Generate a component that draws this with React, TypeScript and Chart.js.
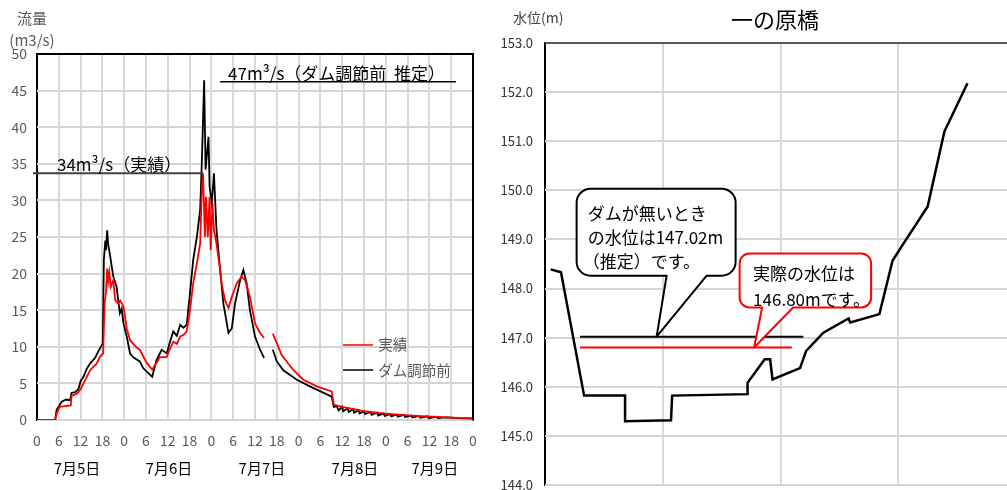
import React, { useEffect, useRef } from "react";
import { Chart, registerables } from "chart.js";

Chart.register(...registerables);

const FONT = '"Noto Sans CJK JP", "Noto Sans", sans-serif';

// ---------- Left chart: discharge ----------
const actualHours = [0, 5, 5.5, 6.2, 9.3, 9.5, 11, 12, 13.7, 14.6, 16.4, 17.3, 18.2, 18.6, 19.0, 19.3, 19.6, 19.9, 20.3, 21, 21.5, 22.3, 22.9, 23.8, 24.7, 25.6, 27.4, 28.3, 30.2, 31.7, 32.9, 33.8, 35.7, 36.5, 37.5, 38.5, 39.4, 40.3, 41.2, 42.1, 43, 44, 44.9, 45.3, 45.7, 46.2, 46.5, 47, 47.5, 47.8, 48.3, 48.7, 49.4, 50.4, 50.8, 51.7, 52.7, 53.6, 55, 56.3, 57.3, 58.6, 60, 61.4, 62.5, 63.5, 64.9, 66, 67.3, 68.7, 70.6, 73.3, 77, 81.1, 81.7, 84, 86.2, 90, 95.3, 100, 104.5, 111.8, 116, 120];
const actualFlow = [0, 0, 1.0, 1.8, 2.0, 3.3, 3.6, 4.2, 5.9, 6.8, 7.7, 8.6, 9.1, 15.9, 17.5, 20.7, 19.0, 20.2, 18.2, 19.1, 16.4, 15.9, 16.3, 15.5, 12.5, 10.9, 9.9, 9.6, 7.8, 6.9, 7.8, 8.6, 8.6, 9.6, 10.7, 10.4, 11.4, 11.6, 12.1, 15, 18.7, 21.4, 24.1, 30.5, 33.7, 25, 30.5, 25, 30.5, 23.2, 29.6, 26, 24.1, 20.5, 18.7, 16.4, 15.3, 16.8, 18.7, 19.6, 19.1, 16.8, 13.2, 11.9, 11.2, null, 11.8, 10.5, 8.9, 8.0, 6.8, 5.5, 4.6, 3.9, 2.1, 1.8, 1.6, 1.2, 0.9, 0.7, 0.55, 0.4, 0.3, 0.25];

const beforeHours = [0, 5, 5.4, 6.8, 8, 9.1, 9.5, 10.5, 11.4, 12, 12.8, 13.7, 14.6, 16, 16.8, 17.8, 18.1, 18.4, 18.8, 19.0, 19.3, 19.6, 20.1, 21, 21.9, 22.8, 23.3, 23.8, 24.7, 25.6, 26.4, 28.3, 29.2, 31.7, 32.9, 34.3, 35.7, 36.5, 37.5, 38.5, 39.4, 40.3, 41.2, 42.1, 43, 44, 44.9, 45.3, 45.7, 46.0, 46.4, 47.2, 47.5, 48.1, 48.7, 49.4, 50.4, 51.3, 52.7, 53.6, 54.5, 55.9, 56.8, 57.7, 58.6, 60, 61.4, 62.5, 63.5, 64.9, 66, 67.8, 71.5, 75.1, 81.1, 81.7, 82.5, 83, 84, 84.3, 85.5, 85.8, 87, 87.3, 88.5, 88.8, 90, 90.3, 91.8, 92.1, 93.6, 93.9, 95.4, 95.7, 97.2, 97.5, 99, 99.3, 101, 101.3, 103, 103.3, 105.2, 105.5, 107.5, 107.8, 110, 110.3, 112.5, 116, 120];
const beforeFlow = [0, 0, 1.4, 2.5, 2.8, 2.7, 3.7, 3.8, 4.2, 5.3, 5.9, 7.0, 7.7, 8.5, 9.3, 10.2, 10.5, 21.9, 24.5, 23.2, 25.9, 24.0, 22.5, 19.6, 18.2, 14.6, 15.2, 13.2, 11.4, 9.1, 8.6, 8.0, 7.1, 5.9, 8.2, 9.6, 9.1, 10.5, 12.1, 11.5, 13, 12.6, 13, 17.3, 21.9, 25, 28.7, 34.2, 41, 46.4, 34.2, 38.7, 31.9, 29.6, 33.7, 26, 20.5, 15.9, 11.9, 12.5, 15.9, 19.1, 20.5, 18.7, 15, 11.4, 9.6, 8.5, null, 9.6, 8.0, 6.8, 5.5, 4.6, 3.2, 1.8, 1.9, 1.3, 1.8, 1.2, 1.6, 1.1, 1.5, 1.0, 1.35, 0.9, 1.2, 0.8, 1.1, 0.7, 1.0, 0.6, 0.9, 0.55, 0.8, 0.5, 0.75, 0.45, 0.7, 0.4, 0.6, 0.35, 0.55, 0.3, 0.5, 0.25, 0.45, 0.25, 0.35, 0.25, 0.2];

const dateLabels = ["7月5日", "7月6日", "7月7日", "7月8日", "7月9日"];
const dateLabelHours = [11, 36.3, 61.9, 87.5, 109.5];

const actualPeak = 33.7; // 34m3/s line
const actualPeakSpan = [-1.1, 45.7];
const beforePeak = 46.2; // 47m3/s line
const beforePeakSpan = [50.4, 115.3];

// ---------- Right chart: cross section ----------
const bedDist = [0.24, 0.68, 1.66, 3.40, 3.40, 5.35, 5.40, 8.60, 8.60, 9.33, 9.56, 9.66, 10.83, 11.09, 11.82, 12.89, 12.96, 14.20, 14.76, 15.20, 16.25, 16.96, 17.94];
const bedElev = [148.39, 148.33, 145.82, 145.82, 145.30, 145.32, 145.82, 145.85, 146.08, 146.56, 146.56, 146.15, 146.38, 146.73, 147.10, 147.39, 147.31, 147.48, 148.57, 148.90, 149.67, 151.20, 152.18];

const noDamLevel = 147.02;
const noDamSpan = [1.49, 10.97];
const noDamTip = 4.74;
const actualLevel = 146.80;
const actualSpan = [1.49, 10.48];
const actualTip = 8.88;

const GRID = "#d9d9d9";

function calloutPath(ctx: CanvasRenderingContext2D, l: number, t: number, r: number, b: number, rad: number, b1: number, b2: number, tx: number, ty: number) {
  ctx.beginPath();
  ctx.moveTo(l + rad, t);
  ctx.lineTo(r - rad, t);
  ctx.arcTo(r, t, r, t + rad, rad);
  ctx.lineTo(r, b - rad);
  ctx.arcTo(r, b, r - rad, b, rad);
  ctx.lineTo(b2, b);
  ctx.lineTo(tx, ty);
  ctx.lineTo(b1, b);
  ctx.lineTo(l + rad, b);
  ctx.arcTo(l, b, l, b - rad, rad);
  ctx.lineTo(l, t + rad);
  ctx.arcTo(l, t, l + rad, t, rad);
  ctx.closePath();
}

// horizontal grid lines from the y scale's own ticks
const hGridPlugin = {
  id: "hGrid",
  beforeDatasetsDraw(chart: any) {
    const { ctx, chartArea: a, scales } = chart;
    const y = scales.y;
    ctx.save();
    ctx.fillStyle = "#d4d4d4";
    const n = Math.round((y.max - y.min) / Number(y.options.ticks.stepSize));
    for (let i = 0; i <= n; i++) {
      const v = y.min + i * Number(y.options.ticks.stepSize);
      const py = Math.round(y.getPixelForValue(v));
      ctx.fillRect(a.left, py - 1, a.right - a.left, 2);
    }
    ctx.restore();
  },
};

export default function App() {
  const leftRef = useRef<HTMLCanvasElement | null>(null);
  const rightRef = useRef<HTMLCanvasElement | null>(null);

  useEffect(() => {
    const leftPlugin = {
      id: "leftDecor",
      afterDatasetsDraw(chart: any) {
        const { ctx, chartArea: a, scales } = chart;
        const x = scales.x, y = scales.y;
        ctx.save();
        ctx.strokeStyle = "#000";
        ctx.lineWidth = 2;
        ctx.beginPath();
        ctx.moveTo(a.left, a.top);
        ctx.lineTo(a.right, a.top);
        ctx.lineTo(a.right, a.bottom);
        ctx.stroke();
        ctx.strokeStyle = "#404040";
        ctx.lineWidth = 2;
        ctx.beginPath();
        ctx.moveTo(x.getPixelForValue(actualPeakSpan[0]), y.getPixelForValue(actualPeak));
        ctx.lineTo(x.getPixelForValue(actualPeakSpan[1]), y.getPixelForValue(actualPeak));
        ctx.stroke();
        ctx.strokeStyle = "#000";
        ctx.lineWidth = 1.5;
        ctx.beginPath();
        ctx.moveTo(x.getPixelForValue(beforePeakSpan[0]), y.getPixelForValue(beforePeak));
        ctx.lineTo(x.getPixelForValue(beforePeakSpan[1]), y.getPixelForValue(beforePeak));
        ctx.stroke();
        ctx.fillStyle = "#000";
        ctx.font = `17px ${FONT}`;
        ctx.textBaseline = "middle";
        ctx.textAlign = "left";
        ctx.fillText("34m³/s（実績）", x.getPixelForValue(5.5), y.getPixelForValue(actualPeak) - 9);
        ctx.fillText("47m³/s（ダム調節前  推定）", x.getPixelForValue(52.6), y.getPixelForValue(beforePeak) - 8);
        const legend = [
          { label: "実績", color: "#ff0000", v: 10.25 },
          { label: "ダム調節前", color: "#000", v: 6.83 },
        ];
        ctx.font = `14.5px ${FONT}`;
        legend.forEach((it) => {
          const py = y.getPixelForValue(it.v);
          ctx.strokeStyle = it.color;
          ctx.lineWidth = 1.5;
          ctx.beginPath();
          ctx.moveTo(x.getPixelForValue(84.2), py);
          ctx.lineTo(x.getPixelForValue(92.5), py);
          ctx.stroke();
          ctx.fillStyle = "#595959";
          ctx.fillText(it.label, x.getPixelForValue(93.9), py);
        });
        ctx.fillStyle = "#595959";
        ctx.textAlign = "center";
        ctx.font = `15px ${FONT}`;
        ctx.fillText("流量", 32, 18);
        ctx.fillText("(m3/s)", 32, 40);
        ctx.fillStyle = "#000";
        ctx.font = `15px ${FONT}`;
        dateLabels.forEach((d, i) => {
          ctx.fillText(d, x.getPixelForValue(dateLabelHours[i]), 468);
        });
        ctx.restore();
      },
    };

    const left = new Chart(leftRef.current as HTMLCanvasElement, {
      type: "line",
      data: {
        datasets: [
          {
            label: "実績",
            data: actualHours.map((h, i) => ({ x: h, y: actualFlow[i] })) as any,
            borderColor: "#ff0000",
            borderWidth: 1.8,
            pointRadius: 0,
            tension: 0,
            spanGaps: false,
          },
          {
            label: "ダム調節前",
            data: beforeHours.map((h, i) => ({ x: h, y: beforeFlow[i] })) as any,
            borderColor: "#000",
            borderWidth: 1.8,
            pointRadius: 0,
            tension: 0,
            spanGaps: false,
          },
        ],
      },
      options: {
        responsive: false,
        animation: false,
        devicePixelRatio: 1,
        layout: { padding: { top: 54, right: 17, left: 0, bottom: 0 } },
        plugins: { legend: { display: false }, tooltip: { enabled: false }, title: { display: false } },
        scales: {
          x: {
            type: "linear",
            min: 0,
            max: 120,
            ticks: {
              stepSize: 6,
              autoSkip: false,
              maxRotation: 0,
              padding: 12,
              color: "#595959",
              font: { size: 14, family: FONT },
              callback: (v: any) => String(Number(v) % 24),
            },
            grid: { display: true, drawOnChartArea: true, color: GRID, lineWidth: 2, drawTicks: false },
            border: { color: "#000", width: 2 },
            afterFit: (s: any) => { s.height = 70; },
          },
          y: {
            min: 0,
            max: 50,
            ticks: { stepSize: 5, padding: 10, color: "#595959", font: { size: 14, family: FONT } },
            grid: { display: false, drawTicks: false },
            border: { color: "#000", width: 2 },
            afterFit: (s: any) => { s.width = 37; },
          },
        },
      },
      plugins: [hGridPlugin, leftPlugin],
    });

    const rightPlugin = {
      id: "rightDecor",
      afterDatasetsDraw(chart: any) {
        const { ctx, chartArea: a, scales } = chart;
        const x = scales.x, y = scales.y;
        ctx.save();
        ctx.strokeStyle = "#595959";
        ctx.lineWidth = 2;
        ctx.beginPath();
        ctx.moveTo(a.left, a.top);
        ctx.lineTo(a.right, a.top);
        ctx.stroke();

        const t1x = x.getPixelForValue(noDamTip), t1y = y.getPixelForValue(noDamLevel);
        calloutPath(ctx, t1x - 80, t1y - 148, t1x + 79, t1y - 61, 14, t1x + 10, t1x + 50, t1x, t1y);
        ctx.fillStyle = "#fff";
        ctx.fill();
        ctx.strokeStyle = "#000";
        ctx.lineWidth = 2;
        ctx.lineJoin = "round";
        ctx.stroke();
        ctx.fillStyle = "#000";
        ctx.font = `17px ${FONT}`;
        ctx.textAlign = "left";
        ctx.textBaseline = "middle";
        ctx.fillText("ダムが無いとき", t1x - 69, t1y - 123);
        ctx.fillText("の水位は147.02m", t1x - 69, t1y - 99);
        ctx.fillText("（推定）です。", t1x - 74, t1y - 75);

        const t2x = x.getPixelForValue(actualTip), t2y = y.getPixelForValue(actualLevel);
        calloutPath(ctx, t2x - 14.5, t2y - 94, t2x + 117, t2y - 40, 10, t2x + 8, t2x + 39, t2x, t2y);
        ctx.fillStyle = "#fff";
        ctx.fill();
        ctx.strokeStyle = "#ff0000";
        ctx.stroke();
        ctx.fillStyle = "#000";
        ctx.fillText("実際の水位は", t2x - 1, t2y - 74);
        ctx.fillText("146.80mです。", t2x - 1, t2y - 48);

        ctx.textAlign = "center";
        ctx.font = `22px ${FONT}`;
        ctx.fillText("一の原橋", 285, 20);
        ctx.textAlign = "left";
        ctx.font = `14px ${FONT}`;
        ctx.fillStyle = "#404040";
        ctx.fillText("水位(m)", 23, 18);
        ctx.restore();
      },
    };

    const right = new Chart(rightRef.current as HTMLCanvasElement, {
      type: "line",
      data: {
        datasets: [
          {
            label: "actual",
            data: actualSpan.map((d) => ({ x: d, y: actualLevel })) as any,
            borderColor: "#ff0000",
            borderWidth: 2,
            pointRadius: 0,
          },
          {
            label: "nodam",
            data: noDamSpan.map((d) => ({ x: d, y: noDamLevel })) as any,
            borderColor: "#000",
            borderWidth: 2,
            pointRadius: 0,
          },
          {
            label: "bed",
            data: bedDist.map((d, i) => ({ x: d, y: bedElev[i] })) as any,
            borderColor: "#000",
            borderWidth: 2.5,
            pointRadius: 0,
            tension: 0,
          },
        ],
      },
      options: {
        responsive: false,
        animation: false,
        devicePixelRatio: 1,
        layout: { padding: { top: 43, right: 34, left: 0, bottom: 0 } },
        plugins: { legend: { display: false }, tooltip: { enabled: false }, title: { display: false } },
        scales: {
          x: {
            type: "linear",
            min: 0,
            max: 20,
            ticks: { stepSize: 5, display: false },
            grid: { display: true, drawOnChartArea: true, color: GRID, lineWidth: 2, drawTicks: false },
            border: { display: false },
            afterFit: (s: any) => { s.height = 35; },
          },
          y: {
            min: 144,
            max: 153,
            ticks: {
              stepSize: 1,
              padding: 12,
              color: "#333",
              font: { size: 13, family: FONT },
              callback: (v: any) => Number(v).toFixed(1),
            },
            grid: { display: false, drawTicks: false },
            border: { color: "#000", width: 2 },
            afterFit: (s: any) => { s.width = 55; },
          },
        },
      },
      plugins: [hGridPlugin, rightPlugin],
    });

    return () => {
      left.destroy();
      right.destroy();
    };
  }, []);

  return (
    <div style={{ position: "fixed", left: 0, top: 0, width: 1007, height: 490, overflow: "hidden", background: "#fff" }}>
      <canvas ref={leftRef} width={490} height={490} style={{ position: "absolute", left: 0, top: 0, width: 490, height: 490 }} />
      <canvas ref={rightRef} width={560} height={520} style={{ position: "absolute", left: 490, top: 0, width: 560, height: 520 }} />
    </div>
  );
}
